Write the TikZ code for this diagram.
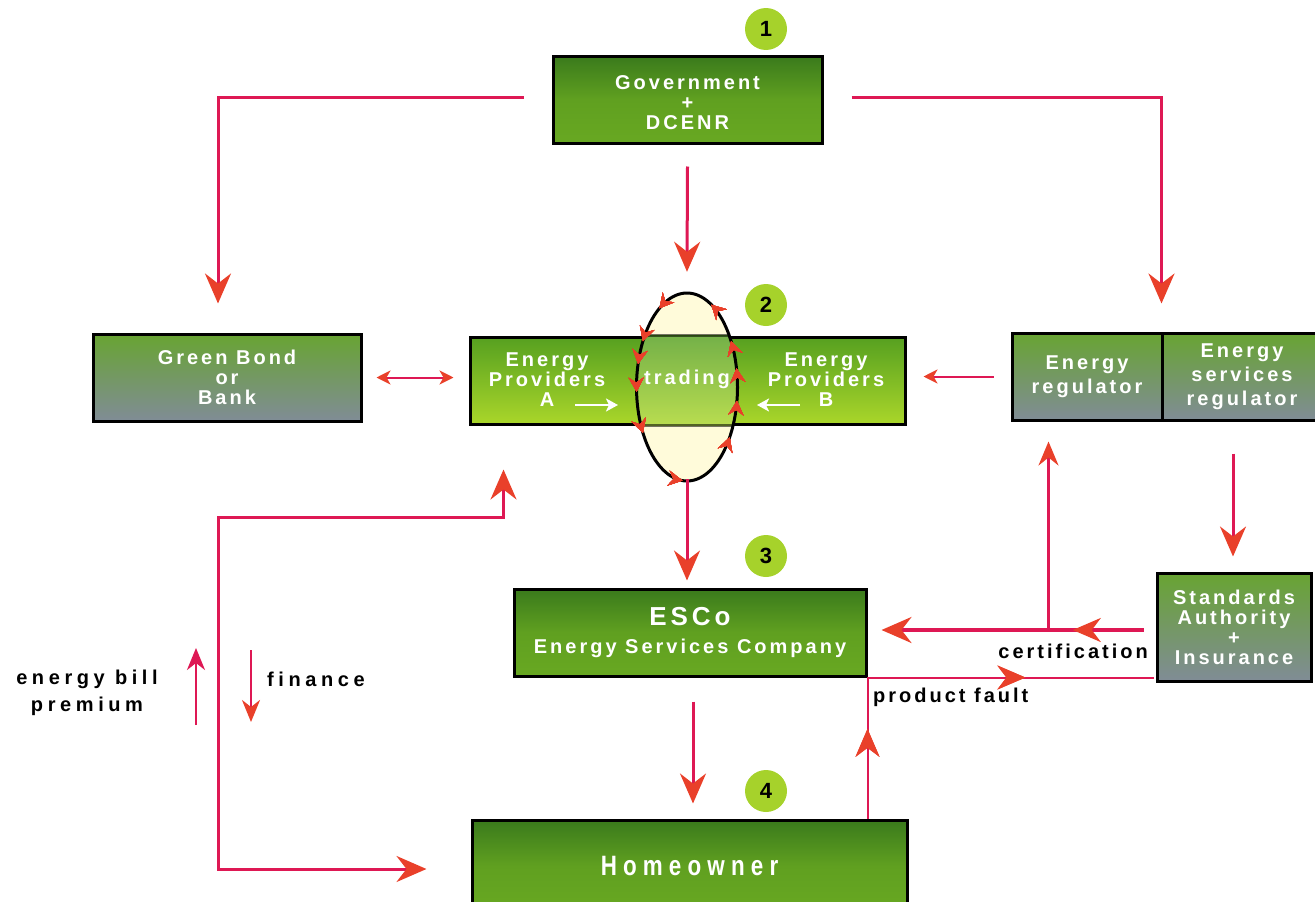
\documentclass[tikz,border=0pt]{standalone}
\usepackage{fontspec}
\usetikzlibrary{arrows.meta,calc,shapes.geometric,decorations.markings}
\newfontfamily\spf{Liberation Sans}[LetterSpace=15]
\newfontfamily\wspf{Liberation Sans}[LetterSpace=23]
\newfontfamily\homef{Liberation Sans}[LetterSpace=22,FakeStretch=0.8]
\newfontfamily\plainf{Liberation Sans}
\definecolor{lineC}{RGB}{222,24,84}
\definecolor{tipC}{RGB}{233,64,42}
\definecolor{gA}{RGB}{58,122,28}
\definecolor{gB}{RGB}{104,168,34}
\definecolor{gM}{RGB}{96,160,32}
\definecolor{eTop}{RGB}{86,160,32}
\definecolor{eBot}{RGB}{170,214,42}
\definecolor{sTop}{RGB}{104,164,50}
\definecolor{sBot}{RGB}{128,140,150}
\definecolor{badgeC}{RGB}{166,210,43}
\definecolor{creamC}{RGB}{255,251,218}
\begin{document}
\begin{tikzpicture}[x=1pt,y=-1pt,
  box/.style={draw=black,line width=3pt,inner sep=0pt,text=white,align=center,
    font=\spf\bfseries\fontsize{20}{20}\selectfont},
  gbox/.style={box,top color=gA,bottom color=gB,middle color=gM},
  ebox/.style={box,top color=eTop,bottom color=eBot},
  sbox/.style={box,top color=sTop,bottom color=sBot},
  wtxt/.style={text=white,inner sep=0pt,align=center,font=\spf\bfseries\fontsize{20}{20}\selectfont},
  lab/.style={text=black,inner sep=0pt,align=center,font=\spf\bfseries\fontsize{20}{27}\selectfont},
  wlab/.style={lab,font=\wspf\bfseries\fontsize{20}{27}\selectfont},
  badge/.style={circle,fill=badgeC,minimum size=42pt,inner sep=0pt,font=\plainf\bfseries\fontsize{22}{22}\selectfont},
  conn/.style={draw=lineC,line width=3pt},
  bigtip/.style={-{Stealth[length=30pt,width=26pt,inset=10pt,color=tipC]}},
  bigboth/.style={{Stealth[length=30pt,width=26pt,inset=10pt,color=tipC]}-{Stealth[length=30pt,width=26pt,inset=10pt,color=tipC]}},
  medtip/.style={-{Stealth[length=24pt,width=20pt,inset=8pt,color=tipC]}},
  smalltip/.style={-{Stealth[length=14pt,width=14pt,inset=4pt,color=tipC]}},
  smallboth/.style={{Stealth[length=14pt,width=14pt,inset=4pt,color=tipC]}-{Stealth[length=14pt,width=14pt,inset=4pt,color=tipC]}},
  midarrow/.style={postaction={decorate},decoration={markings,
    mark=at position #1 with {\arrow{Stealth[length=28pt,width=24pt,inset=9pt,color=tipC]}}}},
  ringmark/.style={postaction={decorate},decoration={markings,
    mark=at position #1 with {\arrow{Stealth[length=14pt,width=15pt,inset=5pt,color=tipC]}}}}
]
\useasboundingbox (0,0) rectangle (1315,902);
\clip (0,0) rectangle (1315,902);

% boxes
\node[gbox,minimum width=269pt,minimum height=87pt] (gov) at (687.5,99.5) {\rule{0pt}{20pt}Government\\+\\DCENR};
\node[ebox,minimum width=435pt,minimum height=87pt] (ep) at (687.5,380.5) {};
\node[sbox,minimum width=268pt,minimum height=87pt] (bond) at (227,377.5) {Green Bond\\or\\Bank};
\node[sbox,minimum width=150pt,minimum height=87pt,font=\spf\bfseries\fontsize{20}{24}\selectfont] (reg1) at (1087,376.5) {Energy\\regulator};
\node[sbox,minimum width=160pt,minimum height=87pt,font=\spf\bfseries\fontsize{20}{24}\selectfont] (reg2) at (1242,376.5) {Energy\\services\\regulator};
\node[sbox,minimum width=154pt,minimum height=108pt] (std) at (1234,627) {Standards\\Authority\\+\\Insurance};
\node[gbox,minimum width=352pt,minimum height=87pt,font=\spf\bfseries\fontsize{20}{28}\selectfont] (esco) at (690,632.5) {{\fontsize{26}{28}\selectfont ESCo}\\Energy Services Company};
\node[gbox,minimum width=435pt,minimum height=92pt,font=\homef\bfseries\fontsize{28}{30}\selectfont] (home) at (689.5,866) {Homeowner};

% trading ellipse
\node[ellipse,minimum width=101pt,minimum height=188pt,inner sep=0pt,fill=creamC] (trade) at (687,387) {};
\begin{scope}
  \clip (687,387) ellipse [x radius=50.5pt,y radius=94pt];
  \fill[top color=eTop,bottom color=eBot] (ep.north west) rectangle (ep.south east);
  \fill[white,opacity=0.18] (ep.north west) rectangle (ep.south east);
  \draw[black,line width=3pt,opacity=0.55] (ep.north west) -- (ep.north east) (ep.south west) -- (ep.south east);
\end{scope}
\node[wtxt] (tradl) at (trade.center) [yshift=8pt] {trading};
\draw[black,line width=3pt,
  ringmark=0.04,ringmark=0.10,ringmark=0.19,ringmark=0.32,ringmark=0.40,ringmark=0.45,
  ringmark=0.51,ringmark=0.60,ringmark=0.74,ringmark=0.89,ringmark=0.97]
  plot[domain=0:360,samples=120,variable=\t] ({687+50.5*cos(\t)},{387-94*sin(\t)}) -- cycle;

% provider labels
\node[wtxt] (epA) at (547,380) {Energy\\Providers\\A};
\node[wtxt] (epB) at (826,380) {Energy\\Providers\\B};
\draw[white,line width=2.5pt,-{Stealth[length=12pt,width=13pt,inset=3pt]}] ($(epA.center)+(28,25)$) -- ($(epA.center)+(71,25)$);
\draw[white,line width=2.5pt,-{Stealth[length=12pt,width=13pt,inset=3pt]}] ($(epB.center)+(-26,25)$) -- ($(epB.center)+(-69,25)$);

% badges
\node[badge] (b1) at (766,29) {1};
\node[badge] (b2) at (766,305) {2};
\node[badge] (b3) at (766,556) {3};
\node[badge] (b4) at (766,791) {4};

% connectors
\draw[conn,bigtip] ($(gov.west)+(-28,-2)$) -| ($(bond.north)+(-9,-29)$);
\draw[conn,bigtip] ($(gov.east)+(28,-2)$) -| ($(reg1.north east)+(-2,-28)$);
\draw[conn,bigtip] ($(gov.south)+(0,22)$) -- ($(trade.north)+(0,-21)$);
\draw[conn,line width=2pt,smallboth] ($(bond.east)+(14,0)$) -- ($(ep.west |- bond.east)+(-15,0)$);
\draw[conn,line width=2pt,smalltip] ($(reg1.west)+(-17,0)$) -- ($(ep.east |- reg1.west)+(17,0)$);
\draw[conn,bigtip] ($(std.north |- reg2.south)+(-1,32)$) -- ($(std.north)+(-1,-15)$);
\draw[conn,bigtip] ($(trade.south)+(0,-2)$) -- ($(esco.north -| trade.south)+(0,-7)$);
\draw[conn,bigtip] ($(esco.south)+(3,24)$) -- ($(home.north -| esco.south)+(3,-15)$);

% certification
\draw[conn,line width=3.5pt,bigtip,midarrow=0.27] ($(std.west)+(-12,3)$) -- ($(esco.east |- std.west)+(14,3)$);
\coordinate (cj) at ($(std.west)+(-107,3)$);
\draw[conn,line width=2.5pt,medtip] (cj) -- ($(reg1.south -| cj)+(0,20)$);
\node[lab,anchor=east] (certl) at (1148,651) {certification};

% product fault
\draw[conn,line width=2pt,midarrow=0.21,midarrow=0.70] (home.north -| esco.south east) -- (esco.south east) -- ($(std.west |- esco.south east)+(-2,0)$);
\node[lab,anchor=west] (pfl) at (873,697) {product fault};

% finance loop
\coordinate (lc) at (218,517);
\draw[conn,bigboth] ($(ep.south west)+(35,44)$) |- (lc) |- ($(home.west)+(-44,3)$);
\node[wlab] (ebl) at (87,693) {energy bill\\premium};
\node[wlab,anchor=west] (finl) at (267,679) {finance};
\draw[conn,line width=2.5pt,-{Stealth[length=22pt,width=18pt,inset=7pt,color=lineC]}] ($(ebl.center)+(109,32)$) -- ($(ebl.center)+(109,-45)$);
\draw[conn,line width=2.5pt,-{Stealth[length=22pt,width=18pt,inset=7pt,color=tipC]}] ($(finl.west)+(-16,-29)$) -- ($(finl.west)+(-16,43)$);
\end{tikzpicture}
\end{document}
